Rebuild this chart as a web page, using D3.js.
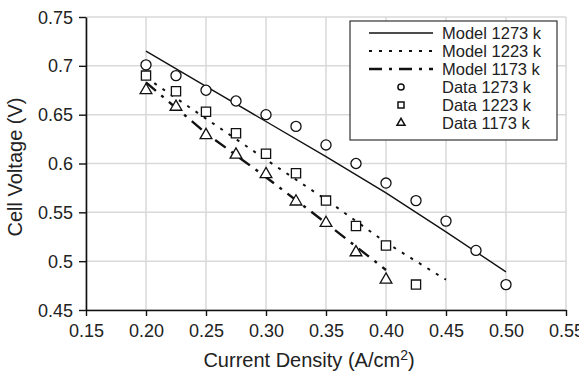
<!DOCTYPE html>
<html><head><meta charset="utf-8">
<script src="https://cdn.jsdelivr.net/npm/d3@7"></script>
<style>body{margin:0;background:#fff}svg{display:block}text{font-family:"Liberation Sans",Arial,sans-serif;fill:#222}</style>
</head><body><svg id="c" width="579" height="376"></svg>
<script>
const xTicks = [0.15,0.20,0.25,0.30,0.35,0.40,0.45,0.50,0.55];
const xTickLabels = ["0.15","0.20","0.25","0.30","0.35","0.40","0.45","0.50","0.55"];
const yTicks = [0.45,0.5,0.55,0.6,0.65,0.7,0.75];
const yTickLabels = ["0.45","0.5","0.55","0.6","0.65","0.7","0.75"];

const data1273X = [0.2,0.225,0.25,0.275,0.3,0.325,0.35,0.375,0.4,0.425,0.45,0.475,0.5];
const data1273Y = [0.701,0.690,0.675,0.664,0.650,0.638,0.619,0.600,0.580,0.562,0.541,0.511,0.476];
const data1223X = [0.2,0.225,0.25,0.275,0.3,0.325,0.35,0.375,0.4,0.425];
const data1223Y = [0.690,0.674,0.653,0.631,0.610,0.590,0.562,0.536,0.516,0.476];
const data1173X = [0.2,0.225,0.25,0.275,0.3,0.325,0.35,0.375,0.4];
const data1173Y = [0.675,0.658,0.629,0.609,0.589,0.561,0.539,0.509,0.481];

const model1273X = [0.2,0.25,0.3,0.35,0.4,0.45,0.5];
const model1273Y = [0.715,0.679,0.643,0.607,0.570,0.530,0.489];
const model1223X = [0.2,0.25,0.3,0.35,0.4,0.45];
const model1223Y = [0.688,0.646,0.604,0.563,0.519,0.481];
const model1173X = [0.2,0.25,0.3,0.35,0.4];
const model1173Y = [0.683,0.631,0.586,0.539,0.491];

const legendLabels = ["Model 1273 k","Model 1223 k","Model 1173 k","Data 1273 k","Data 1223 k","Data 1173 k"];

const W = 579, H = 376;
const m = {l:86, r:13, t:17, b:66};
const svg = d3.select("#c");
const x = d3.scaleLinear().domain([0.15,0.55]).range([m.l, W-m.r]);
const y = d3.scaleLinear().domain([0.45,0.75]).range([H-m.b, m.t]);

// grid
const grid = svg.append("g");
grid.selectAll("line.gx").data(xTicks).join("line")
  .attr("x1",d=>x(d)).attr("x2",d=>x(d)).attr("y1",y(0.45)).attr("y2",y(0.75))
  .attr("stroke","#d9d9d9").attr("stroke-width",1.5);
grid.selectAll("line.gy").data(yTicks).join("line")
  .attr("y1",d=>y(d)).attr("y2",d=>y(d)).attr("x1",x(0.15)).attr("x2",x(0.55))
  .attr("stroke","#d9d9d9").attr("stroke-width",1.5);

// axes
const xAxis = d3.axisBottom(x).tickValues(xTicks).tickFormat((d,i)=>xTickLabels[i]).tickSize(6).tickSizeOuter(0).tickPadding(6);
const yAxis = d3.axisLeft(y).tickValues(yTicks).tickFormat((d,i)=>yTickLabels[i]).tickSize(7).tickSizeOuter(0).tickPadding(6);
const gx = svg.append("g").attr("transform",`translate(0,${y(0.45)})`).call(xAxis);
const gy = svg.append("g").attr("transform",`translate(${x(0.15)},0)`).call(yAxis);
[gx,gy].forEach(g=>{
  g.select(".domain").attr("stroke","#111").attr("stroke-width",1.6);
  g.selectAll(".tick line").attr("stroke","#111").attr("stroke-width",1.4);
  g.selectAll(".tick text").attr("font-size",18).attr("fill","#222").attr("font-family","Liberation Sans, Arial, sans-serif");
});
gx.selectAll(".tick text").attr("dy","0.82em");
gy.selectAll(".tick text").attr("dy","0.34em");

// model lines
const line = d3.line().x(d=>x(d[0])).y(d=>y(d[1]));
const zip = (a,b)=>a.map((v,i)=>[v,b[i]]);
const styles = [
  {dash:null, w:1.4},
  {dash:"3,7", w:2},
  {dash:"13,7,3,7", w:2.4}
];
const models = [zip(model1273X,model1273Y), zip(model1223X,model1223Y), zip(model1173X,model1173Y)];
models.forEach((pts,i)=>{
  svg.append("path").attr("d",line(pts)).attr("fill","none").attr("stroke","#111")
    .attr("stroke-width",styles[i].w).attr("stroke-dasharray",styles[i].dash);
});

// markers
const circ = d3.symbol().type(d3.symbolCircle);
const sq = d3.symbol().type(d3.symbolSquare);
const tri = d3.symbol().type(d3.symbolTriangle);
const sets = [
  {pts:zip(data1273X,data1273Y), sym:circ, size:80},
  {pts:zip(data1223X,data1223Y), sym:sq, size:85},
  {pts:zip(data1173X,data1173Y), sym:tri, size:60}
];
sets.forEach(s=>{
  svg.append("g").selectAll("path").data(s.pts).join("path")
    .attr("d",s.sym.size(s.size)()).attr("transform",d=>`translate(${x(d[0])},${y(d[1])})`)
    .attr("fill","#fff").attr("stroke","#111").attr("stroke-width",1.3);
});

// legend
const lg = svg.append("g");
lg.append("rect").attr("x",350).attr("y",21).attr("width",207).attr("height",119)
  .attr("fill","#fff").attr("stroke","#333").attr("stroke-width",1.2);
const legSizes = [30,36,28];
legendLabels.forEach((t,i)=>{
  const ry = 33 + i*18;
  if(i<3){
    lg.append("line").attr("x1",369).attr("x2",433).attr("y1",ry).attr("y2",ry)
      .attr("stroke","#111").attr("stroke-width",styles[i].w).attr("stroke-dasharray",styles[i].dash);
  } else {
    const sym = [circ,sq,tri][i-3];
    lg.append("path").attr("d",sym.size(legSizes[i-3])()).attr("transform",`translate(401,${ry})`)
      .attr("fill","#fff").attr("stroke","#111").attr("stroke-width",1.5);
  }
  lg.append("text").attr("x",442).attr("y",ry).attr("dy","0.35em").attr("font-size",16.5).text(t);
});

// axis titles
const xt = svg.append("text").attr("x",309).attr("y",367).attr("text-anchor","middle").attr("font-size",20);
xt.append("tspan").text("Current Density (A/cm");
xt.append("tspan").attr("font-size",14).attr("dy",-7).text("2");
xt.append("tspan").attr("dy",7).text(")");
svg.append("text").attr("transform",`translate(22,167) rotate(-90)`)
  .attr("text-anchor","middle").attr("font-size",20).text("Cell Voltage (V)");
</script></body></html>
